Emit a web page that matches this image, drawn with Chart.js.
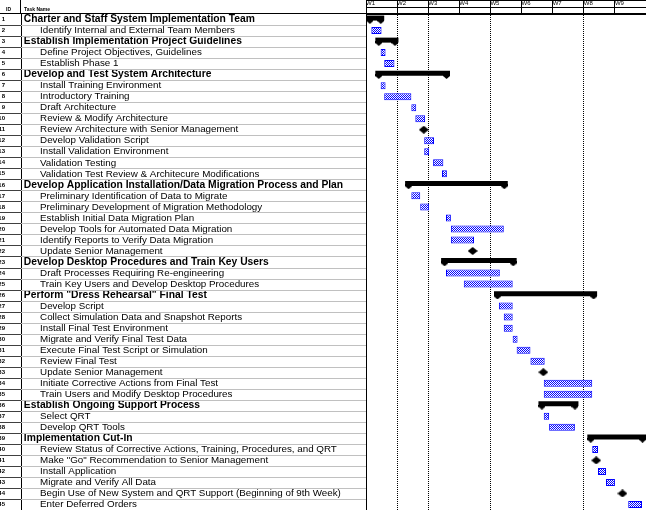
<!DOCTYPE html>
<html lang="en">
<head>
<meta charset="UTF-8">
<title>Implementation Schedule</title>
<script src="https://cdn.jsdelivr.net/npm/chart.js@4"></script>
<style>
  body { margin: 0; background: #fff; }
  #gantt { display: block; }
</style>
</head>
<body>
<canvas id="gantt" width="646" height="510"></canvas>
<script>
// task list, one entry per row (ID = index + 1)
var taskNames = [
  'Charter and Staff System Implementation Team',
  'Identify Internal and External Team Members',
  'Establish Implementation Project Guidelines',
  'Define Project Objectives, Guidelines',
  'Establish Phase 1',
  'Develop and Test System Architecture',
  'Install Training Environment',
  'Introductory Training',
  'Draft Architecture',
  'Review & Modify Architecture',
  'Review Architecture with Senior Management',
  'Develop Validation Script',
  'Install Validation Environment',
  'Validation Testing',
  'Validation Test Review & Architecure Modifications',
  'Develop Application Installation/Data Migration Process and Plan',
  'Preliminary Identification of Data to Migrate',
  'Preliminary Development of Migration Methodology',
  'Establish Initial Data Migration Plan',
  'Develop Tools for Automated Data Migration',
  'Identify Reports to Verify Data Migration',
  'Update Senior Management',
  'Develop Desktop Procedures and Train Key Users',
  'Draft Processes Requiring Re-engineering',
  'Train Key Users and Develop Desktop Procedures',
  'Perform "Dress Rehearsal" Final Test',
  'Develop Script',
  'Collect Simulation Data and Snapshot Reports',
  'Install Final Test Environment',
  'Migrate and Verify Final Test Data',
  'Execute Final Test Script or Simulation',
  'Review Final Test',
  'Update Senior Management',
  'Initiate Corrective Actions from Final Test',
  'Train Users and Modify Desktop Procedures',
  'Establish Ongoing Support Process',
  'Select QRT',
  'Develop QRT Tools',
  'Implementation Cut-In',
  'Review Status of Corrective Actions, Training, Procedures, and QRT',
  'Make "Go" Recommendation to Senior Management',
  'Install Application',
  'Migrate and Verify All Data',
  'Begin Use of New System and QRT Support (Beginning of 9th Week)',
  'Enter Deferred Orders'
];

// plain tasks (day offsets from project start)
var taskRows  = [2, 4, 5, 7, 8, 9, 10, 12, 13, 14, 15, 17, 18, 19, 20, 21, 24, 25, 27, 28, 29, 30, 31, 32, 34, 35, 37, 38, 40, 42, 43, 45];
var taskStart = [1.2, 3.3, 4.1, 3.3, 4.1, 10.2, 11.1, 13.1, 13.1, 15.1, 17.1, 10.2, 12.2, 18.0, 19.1, 19.1, 18.0, 22.0, 29.9, 31.0, 31.0, 33.0, 33.9, 37.0, 40.0, 40.0, 40.0, 41.2, 50.9, 52.2, 54.0, 59.0];
var taskEnd   = [3.5, 4.4, 6.4, 4.4, 10.2, 11.3, 13.3, 15.3, 14.2, 17.4, 18.2, 12.2, 14.2, 19.1, 31.0, 24.3, 30.1, 33.0, 33.0, 33.0, 33.0, 34.1, 37.0, 40.2, 50.9, 50.9, 41.2, 47.0, 52.2, 54.0, 56.0, 62.1];

// summary bars
var summaryRows  = [1, 3, 6, 16, 23, 26, 36, 39];
var summaryStart = [0.1, 2.1, 2.1, 8.8, 16.9, 28.8, 38.8, 49.8];
var summaryEnd   = [4.1, 7.3, 18.9, 31.9, 33.9, 52.0, 47.8, 63.0];

// milestones
var milestoneRows = [11, 22, 33, 41, 44];
var milestoneDay  = [13.0, 24.0, 39.9, 51.8, 57.7];

// timescale
var weekLabels = ['W1', 'W2', 'W3', 'W4', 'W5', 'W6', 'W7', 'W8', 'W9'];
var weekDays   = [0, 7, 14, 21, 28, 35, 42, 49, 56];
var dottedDays = [7, 14, 28, 49];

var FONT = "'Liberation Sans', Arial, sans-serif";
var canvas = document.getElementById('gantt');
var ctx = canvas.getContext('2d');

function hatch() {
  var c = document.createElement('canvas');
  c.width = 2; c.height = 2;
  var g = c.getContext('2d');
  g.fillStyle = '#fff'; g.fillRect(0, 0, 2, 2);
  g.fillStyle = '#0000ff'; g.fillRect(0, 0, 1, 1); g.fillRect(1, 1, 1, 1);
  return ctx.createPattern(c, 'repeat');
}

function diamond() {
  var c = document.createElement('canvas');
  c.width = 10; c.height = 8;
  var g = c.getContext('2d');
  g.fillStyle = '#000';
  g.beginPath();
  g.moveTo(5, 0); g.lineTo(10, 4); g.lineTo(5, 8); g.lineTo(0, 4);
  g.closePath(); g.fill();
  return c;
}

function cap() {
  var c = document.createElement('canvas');
  c.width = 7; c.height = 5;
  var g = c.getContext('2d');
  g.fillStyle = '#000';
  g.beginPath();
  g.moveTo(0, 0); g.lineTo(7, 0); g.lineTo(7, 2); g.lineTo(3.5, 5); g.lineTo(0, 2);
  g.closePath(); g.fill();
  return c;
}

function isSummary(i) { return summaryRows.indexOf(i + 1) >= 0; }

function rowTicks(scale) {
  scale.ticks = taskNames.map(function (n, i) { return { value: i }; });
}

// fixed box sizes, no label overflow padding
function fixBox(w, h) {
  return function (s) {
    if (w !== null) s.width = w;
    if (h !== null) s.height = h;
    s.paddingLeft = s.paddingRight = s.paddingTop = s.paddingBottom = 0;
  };
}

var capPoints = [];
summaryRows.forEach(function (r, k) {
  capPoints.push({ x: summaryStart[k] + 0.78, y: r - 1 + 0.17 });
  capPoints.push({ x: summaryEnd[k] - 0.78, y: r - 1 + 0.17 });
});

// table rules and header text
var tablePlugin = {
  id: 'tablePlugin',
  afterDraw: function (chart) {
    var c = chart.ctx;
    var y = chart.scales.y;
    var left = chart.chartArea.left, right = chart.chartArea.right, top = chart.chartArea.top;
    c.save();
    c.lineWidth = 1;
    for (var i = 0; i < taskNames.length; i++) {
      var py = Math.round(y.getPixelForValue(i + 0.5)) + 0.5;
      c.strokeStyle = '#c0c0c0';
      c.beginPath(); c.moveTo(21, py); c.lineTo(left, py); c.stroke();
      c.strokeStyle = '#404040';
      c.beginPath(); c.moveTo(0, py); c.lineTo(21, py); c.stroke();
    }
    c.strokeStyle = '#000';
    c.beginPath();
    c.moveTo(0, top - 0.5); c.lineTo(right, top - 0.5);
    c.moveTo(left, 0.5); c.lineTo(right, 0.5);
    c.moveTo(left, 7.5); c.lineTo(right, 7.5);
    c.moveTo(20.5, 0); c.lineTo(20.5, top);
    c.stroke();
    c.fillStyle = '#000';
    c.font = 'bold 5px ' + FONT;
    c.textBaseline = 'middle';
    c.fillText('ID', 6, 10);
    c.fillText('Task Name', 24, 10);
    c.restore();
  }
};

new Chart(canvas, {
  type: 'bar',
  data: {
    datasets: [
      {
        type: 'scatter',
        data: milestoneRows.map(function (r, k) { return { x: milestoneDay[k], y: r - 1 }; }),
        xAxisID: 'x', yAxisID: 'y',
        pointStyle: diamond(), pointRadius: 5
      },
      {
        type: 'scatter',
        data: capPoints,
        xAxisID: 'x', yAxisID: 'y',
        pointStyle: cap(), pointRadius: 4
      },
      {
        indexAxis: 'y',
        data: summaryRows.map(function (r, k) { return { x: [summaryStart[k], summaryEnd[k]], y: r - 1 }; }),
        xAxisID: 'x', yAxisID: 'ys',
        backgroundColor: '#000', borderWidth: 0,
        grouped: false, maxBarThickness: 5
      },
      {
        indexAxis: 'y',
        data: taskRows.map(function (r, k) { return { x: [taskStart[k], taskEnd[k]], y: r - 1 }; }),
        xAxisID: 'x', yAxisID: 'y',
        backgroundColor: hatch(), borderColor: '#0000ff', borderWidth: 1,
        borderSkipped: false, grouped: false, maxBarThickness: 7
      }
    ]
  },
  options: {
    responsive: false,
    animation: false,
    events: [],
    layout: { padding: 0, autoPadding: false },
    plugins: { legend: { display: false }, tooltip: { enabled: false } },
    scales: {
      x: {
        type: 'linear', position: 'top', min: 0, max: 63, offset: false,
        afterBuildTicks: function (s) { s.ticks = weekDays.map(function (v) { return { value: v }; }); },
        afterFit: fixBox(null, 14),
        ticks: {
          callback: function (v, i) { return weekLabels[i]; },
          align: 'start', padding: -7, autoSkip: false, maxRotation: 0,
          color: '#000', font: { family: FONT, size: 6 }
        },
        grid: {
          offset: false,
          color: function (c) { return c.tick && dottedDays.indexOf(c.tick.value) >= 0 ? '#000' : 'rgba(0,0,0,0)'; },
          tickColor: '#000', tickLength: 14, lineWidth: 1
        },
        border: { display: true, color: '#000', dash: [1, 1] }
      },
      y: {
        type: 'linear', position: 'left', min: -0.5, max: 44.5, reverse: true, offset: false, weight: 1,
        afterBuildTicks: rowTicks,
        afterFit: fixBox(345, null),
        ticks: {
          callback: function (v, i) { return (isSummary(i) ? ' ' : '       ') + taskNames[i]; },
          crossAlign: 'far', autoSkip: false, color: '#000',
          font: function (c) {
            return isSummary(c.index) ? { family: FONT, size: 10.3, weight: 'bold' } : { family: FONT, size: 9.8 };
          }
        },
        grid: { display: false },
        border: { display: true, color: '#000' }
      },
      ys: {
        type: 'linear', axis: 'y', position: 'left', weight: 0, offset: false,
        min: -0.5 + 0.13, max: 44.5 + 0.13, reverse: true,
        afterFit: fixBox(0, null),
        ticks: { display: false },
        grid: { display: false },
        border: { display: false }
      },
      ids: {
        type: 'linear', axis: 'y', position: 'left', min: -0.5, max: 44.5, reverse: true, offset: false, weight: 2,
        afterBuildTicks: rowTicks,
        afterFit: fixBox(21, null),
        ticks: {
          callback: function (v, i) { return String(i + 1); },
          crossAlign: 'near', padding: 8, autoSkip: false, color: '#000',
          font: { family: FONT, size: 6, weight: 'bold' }
        },
        grid: { display: false },
        border: { display: true, color: '#000' }
      }
    }
  },
  plugins: [tablePlugin]
});
</script>
</body>
</html>
